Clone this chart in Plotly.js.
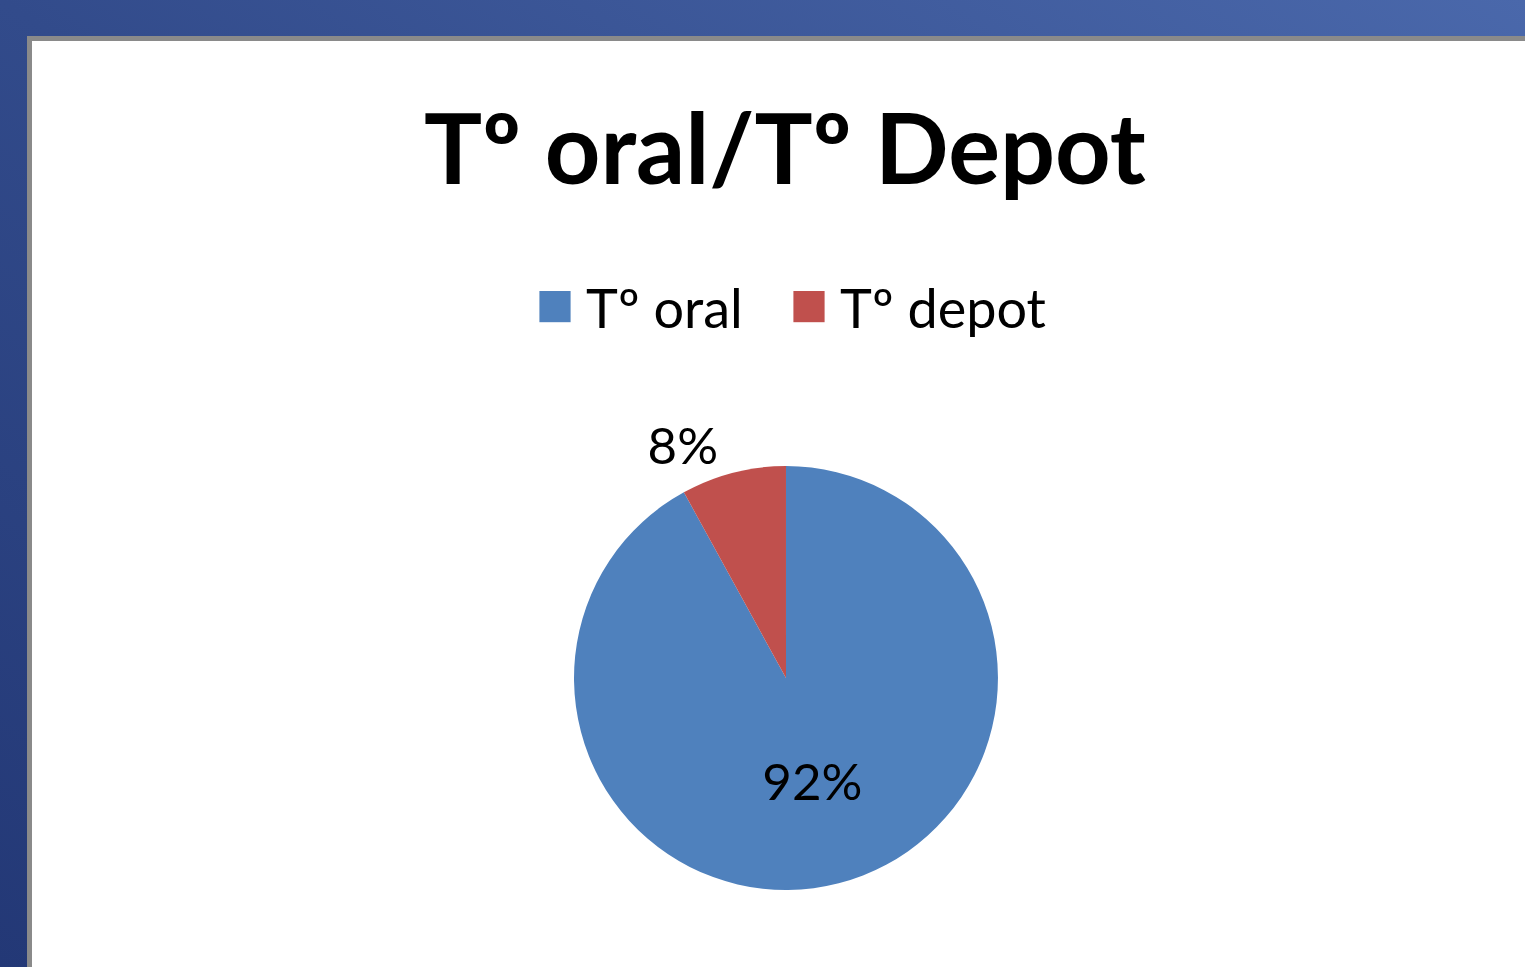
<!DOCTYPE html>
<html>
<head>
<meta charset="utf-8">
<script src="https://cdn.plot.ly/plotly-3.0.1.min.js"></script>
<style>
  html, body { margin: 0; padding: 0; width: 1525px; height: 967px; overflow: hidden; }
  body { background: linear-gradient(to top right, #233876 0%, #324b8b 50%, #4a68ab 100%); }
  #panel {
    position: absolute; left: 27px; top: 36px; width: 1498px; height: 931px;
    background: #ffffff; border-left: 5px solid #8a8a8a; border-top: 5px solid #8a8a8a;
    box-sizing: border-box;
  }
  #chart { position: absolute; left: 0; top: 0; width: 1525px; height: 967px; }
</style>
</head>
<body>
<div id="panel"></div>
<div id="chart"></div>
<script>
// Tº oral vs Tº depot
const labels = ["Tº oral", "Tº depot"];
const values = [92, 8];
const colors = ["#4f81bd", "#c0504d"];

function plotOralDepot() {
  const trace = {
    type: "pie",
    labels: labels,
    values: values,
    sort: false,
    direction: "clockwise",
    rotation: 0,
    marker: { colors: colors, line: { width: 0 } },
    textinfo: "percent",
    texttemplate: "%{percent:.0%}",
    textposition: ["inside", "outside"],
    insidetextorientation: "horizontal",
    textfont: { family: "Lato, sans-serif", size: 51, color: "#000000" },
    domain: { x: [0.3764, 0.6544], y: [0.0796, 0.5181] },
    hoverinfo: "label+percent",
  };

  const layout = {
    width: 1525,
    height: 967,
    paper_bgcolor: "rgba(0,0,0,0)",
    plot_bgcolor: "rgba(0,0,0,0)",
    margin: { l: 0, r: 0, t: 0, b: 0 },
    font: { family: "Lato, sans-serif", color: "#000000" },
    title: {
      text: "<b>Tº oral/Tº Depot</b>",
      font: { family: "Lato, sans-serif", size: 97, color: "#000000" },
      x: 785 / 1525,
      xanchor: "center",
      xref: "paper",
      y: 1 - 150 / 967,
      yanchor: "middle",
      yref: "container",
    },
    showlegend: true,
    legend: {
      orientation: "h",
      x: 792 / 1525,
      xanchor: "center",
      y: 1 - 307 / 967,
      yanchor: "middle",
      entrywidth: 209,
      font: { family: "Lato, sans-serif", size: 54, color: "#000000" },
      bgcolor: "rgba(0,0,0,0)",
      traceorder: "normal",
    },
  };

  Plotly.newPlot("chart", [trace], layout, { displayModeBar: false }).then(function (gd) {
    // bigger legend squares, like the office chart
    gd.querySelectorAll(".legendpoints path").forEach(function (p) {
      p.setAttribute("transform", "translate(17,0) scale(2.6)");
    });
    gd.querySelectorAll(".legendtext").forEach(function (t) {
      t.setAttribute("x", 48);
    });
  });
}

plotOralDepot();
</script>
</body>
</html>
